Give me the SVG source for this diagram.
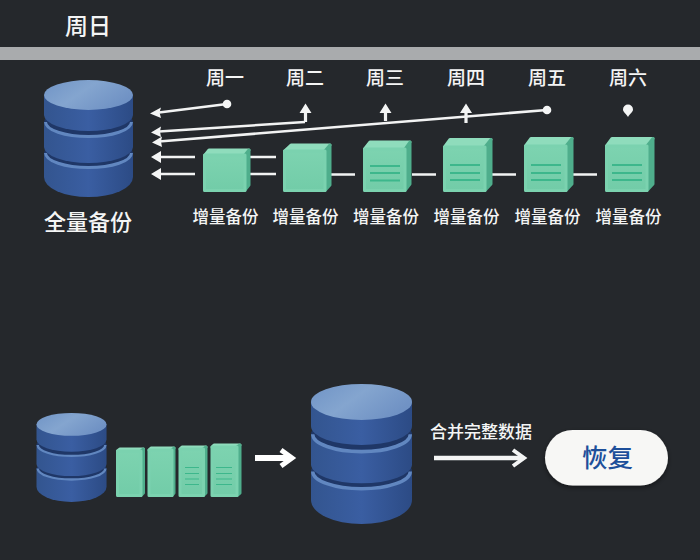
<svg xmlns="http://www.w3.org/2000/svg" width="700" height="560" viewBox="0 0 700 560">
<style>
text{font-family:"Noto Sans CJK SC","Liberation Sans",sans-serif;fill:#f4f5f5;text-anchor:middle;font-weight:500}
.day{font-size:19px}.inc{font-size:16.5px}
.wire{stroke:#f2f3f3;stroke-width:2.6;fill:none}
.stem{stroke:#f2f3f3;stroke-width:3.2;fill:none}
.f,.t,.s{stroke-linejoin:round;stroke-width:3}
.f{fill:url(#boxFront);stroke:#7bd2af}.t{fill:#8fdcbc;stroke:#8fdcbc}.s{fill:#4fae8c;stroke:#4fae8c}
.ln{stroke:#3db78c;stroke-width:2;fill:none}
.lt{stroke:#3db78c;stroke-width:1.2;fill:none}
.body{fill:url(#cyl)}.gap{fill:#1f3767}.rim{fill:none;stroke:#6187c0;stroke-width:3}.cap{fill:url(#capG)}
</style>
<defs>
<linearGradient id="cyl" x1="0" x2="1" y1="0" y2="0"><stop offset="0" stop-color="#33558f"/><stop offset=".5" stop-color="#3a5ea2"/><stop offset="1" stop-color="#2c4b85"/></linearGradient>
<linearGradient id="capG" x1="0" x2="1" y1="0" y2="0.5"><stop offset="0" stop-color="#7094c6"/><stop offset=".5" stop-color="#84a5cf"/><stop offset="1" stop-color="#7092c4"/></linearGradient>
<linearGradient id="boxFront" x1="0" x2="0" y1="0" y2="1"><stop offset="0" stop-color="#7dd3b0"/><stop offset="1" stop-color="#72cca8"/></linearGradient>
<filter id="soft" x="-10%" y="-20%" width="120%" height="150%"><feDropShadow dx="0" dy="2" stdDeviation="2.500" flood-color="#000" flood-opacity=".45"/></filter>
<g id="cylinder">
<path class="body" d="M0,73 V97 A44.5,20 0 0 0 89,97 V73 Z"/>
<ellipse class="gap" cx="44.5" cy="73" rx="44.5" ry="15"/>
<path class="rim" d="M1.5,73 A43,14.500 0 0 0 87.500,73"/>
<path class="body" d="M0,42 V67 A44.5,16 0 0 0 89,67 V42 Z"/>
<ellipse class="gap" cx="44.5" cy="42" rx="44.5" ry="15"/>
<path class="rim" d="M1.5,42 A43,14.500 0 0 0 87.500,42"/>
<path class="body" d="M0,15 V35 A44.5,16 0 0 0 89,35 V15 Z"/>
<ellipse class="cap" cx="44.5" cy="15" rx="44.5" ry="15"/>
</g>
</defs>
<rect width="700" height="560" fill="#25282c"/>
<rect y="47" width="700" height="13" fill="#a9abad"/>
<text x="88" y="34" font-size="23">周日</text>
<g id="connectors">
<path class="wire" d="M227,104 L159,112.500"/>
<path class="wire" d="M305,122 L159,131.500"/>
<path class="wire" d="M547,110 L159,141.500"/>
<path class="wire" d="M195,157 L159,157"/>
<path class="wire" d="M195,174 L159,174"/>
<path d="M150,113.500 L161,107.500 L159.500,112.500 L161,118 Z M151,132.500 L161,126.500 L160,131.500 L161,137 Z M152,142.500 L162,136.500 L161,141.500 L162,147 Z M151,157 L161,151 L161,163 Z M151,174 L161,168 L161,180 Z" fill="#f4f5f5"/>
<circle cx="227" cy="104" r="4.300" fill="#f4f5f5"/>
<circle cx="547" cy="110" r="4.300" fill="#f4f5f5"/>
<path d="M628,117 C626,113.500 623,112 623,109.500 A5,5 0 0 1 633,109.500 C633,112 630,113.500 628,117 Z" fill="#f4f5f5"/>
<path class="stem" d="M305.500,122 V110 M385.500,121 V110 M466,123 V110"/>
<path d="M299.500,113 L305.500,103.500 L311.500,113 Z M379.500,113 L385.500,103.500 L391.500,113 Z M460,113 L466,103.500 L472,113 Z" fill="#f4f5f5"/>
<path class="wire" d="M250,157 H276 M250,174 H276 M331,174.500 H355 M412,174.500 H436 M492,174.500 H516 M573,174.500 H597"/>
<path d="M255,458 H290" stroke="#fff" stroke-width="6" fill="none"/>
<path d="M281,450 L292,458 L281,466" stroke="#fff" stroke-width="5" fill="none"/>
<path d="M434,458 H522" stroke="#f4f5f5" stroke-width="4.500" fill="none"/>
<path d="M513,450 L524,458 L513,466" stroke="#f4f5f5" stroke-width="4" fill="none"/>
</g>
<g id="full-backup">
<use href="#cylinder" transform="translate(44,80)"/>
<text x="88" y="230" font-size="22">全量备份</text>
</g>
<g id="day-1"><text class="day" x="225" y="85">周一</text>
<path class="t" d="M205,155 L209,150 H249 L245,155 Z"/><path class="s" d="M245,155 L249,150 V185 L245,190 Z"/><path class="f" d="M204.500,155 H245 V190.500 H204.500 Z"/>
<text class="inc" x="225.500" y="223">增量备份</text></g>
<g id="day-2"><text class="day" x="305" y="85">周二</text>
<path class="t" d="M284.500,151 L291,145 H330 L325,151 Z"/><path class="s" d="M325,151 L330,145 V185 L325,190.500 Z"/><path class="f" d="M284.500,151 H325 V190.500 H284.500 Z"/>
<text class="inc" x="305.500" y="223">增量备份</text></g>
<g id="day-3"><text class="day" x="385" y="85">周三</text>
<path class="t" d="M364.500,149 L370,142 H410 L405,149 Z"/><path class="s" d="M405,149 L410,142 V184 L405,190.500 Z"/><path class="f" d="M364.500,149 H405 V190.500 H364.500 Z"/>
<path class="ln" d="M370,166 H400 M370,173 H400 M370,180.500 H400"/>
<text class="inc" x="386" y="223">增量备份</text></g>
<g id="day-4"><text class="day" x="466" y="85">周四</text>
<path class="t" d="M444.500,147 L450,139.500 H491 L485,147 Z"/><path class="s" d="M485,147 L491,139.500 V184 L485,190.500 Z"/><path class="f" d="M444.500,147 H485 V190.500 H444.500 Z"/>
<path class="ln" d="M450,165 H480 M450,173 H480 M450,180 H480"/>
<text class="inc" x="466.500" y="223">增量备份</text></g>
<g id="day-5"><text class="day" x="547" y="85">周五</text>
<path class="t" d="M525.500,146 L531,138.500 H572 L566,146 Z"/><path class="s" d="M566,146 L572,138.500 V184 L566,190.500 Z"/><path class="f" d="M525.500,146 H566 V190.500 H525.500 Z"/>
<path class="ln" d="M531,165 H561 M531,173 H561 M531,180 H561"/>
<text class="inc" x="547.500" y="223">增量备份</text></g>
<g id="day-6"><text class="day" x="628" y="85">周六</text>
<path class="t" d="M606.500,146 L612,138.500 H653 L647,146 Z"/><path class="s" d="M647,146 L653,138.500 V184 L647,190.500 Z"/><path class="f" d="M606.500,146 H647 V190.500 H606.500 Z"/>
<path class="ln" d="M612,165 H642 M612,173 H642 M612,180 H642"/>
<text class="inc" x="628.500" y="223">增量备份</text></g>
<g id="restore-source"><use href="#cylinder" transform="translate(36.500,413) scale(.787,.76)"/></g>
<g id="restore-increments">
<path class="t" d="M117.500,451 L120,449 H143.500 L141,451 Z"/><path class="s" d="M141,451 L143.500,449 V493 L141,495.500 Z"/><path class="f" d="M117.500,451 H141 V495.500 H117.500 Z"/>
<path class="t" d="M149,450 L151,448 H174 L172,450 Z"/><path class="s" d="M172,450 L174,448 V493 L172,495.500 Z"/><path class="f" d="M149,450 H172 V495.500 H149 Z"/>
<path class="t" d="M180,449 L182,447 H206 L203.500,449 Z"/><path class="s" d="M203.500,449 L206,447 V493 L203.500,495.500 Z"/><path class="f" d="M180,449 H203.500 V495.500 H180 Z"/>
<path class="lt" d="M185,467.500 H199 M185,473.500 H199 M185,479 H199 M185,484.500 H199"/>
<path class="t" d="M212,447 L214,445 H240 L237,447 Z"/><path class="s" d="M237,447 L240,445 V493 L237,495.500 Z"/><path class="f" d="M212,447 H237 V495.500 H212 Z"/>
<path class="lt" d="M216,467.500 H232 M216,473.500 H232 M216,479 H232 M216,484.500 H232"/>
</g>
<g id="merged"><use href="#cylinder" transform="translate(311,384) scale(1.135,1.197)"/></g>
<text x="481" y="438" font-size="17">合并完整数据</text>
<g id="restore">
<rect x="545" y="430" width="123" height="55.500" rx="27.750" fill="#f7f7f5" filter="url(#soft)"/>
<text x="607.500" y="467" font-size="25.500" style="fill:#1d4f9a">恢复</text>
</g>
</svg>
